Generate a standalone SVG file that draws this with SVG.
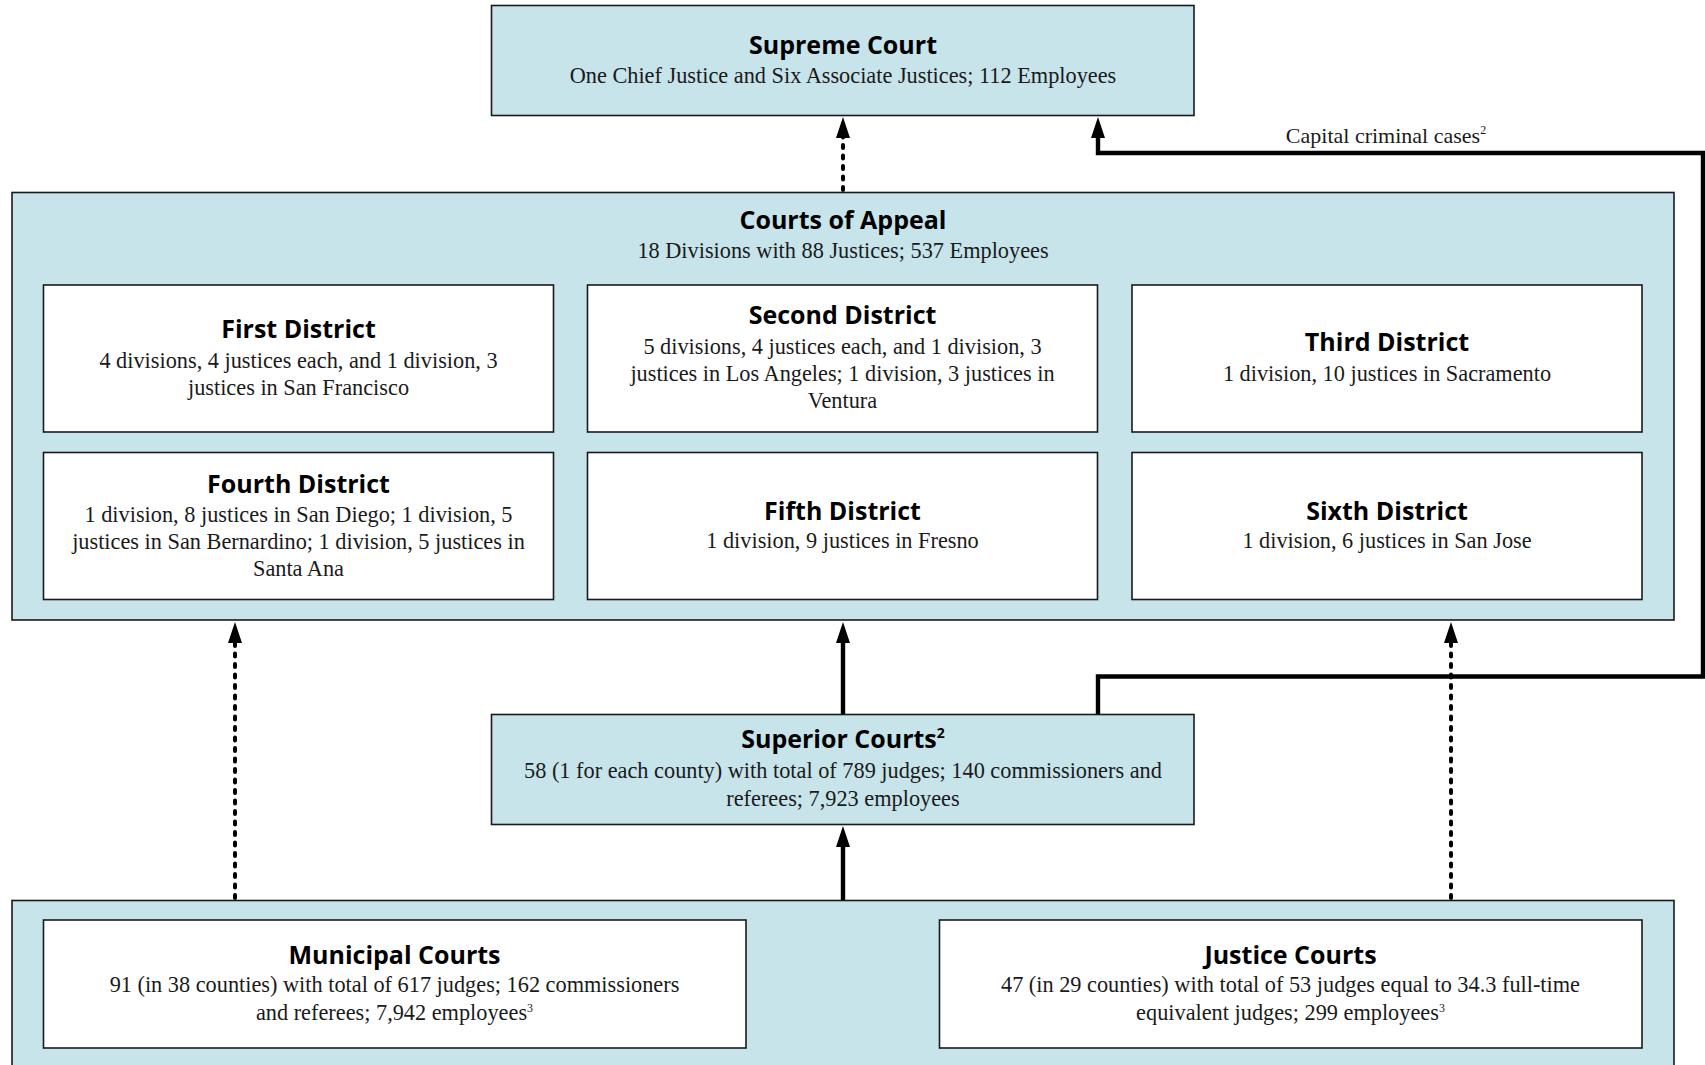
<svg xmlns="http://www.w3.org/2000/svg" width="1705" height="1065" viewBox="0 0 1705 1065">
<defs>
<style>
.blue{fill:#c6e4ea;stroke:#1a1a1a;stroke-width:1.6}
.white{fill:#ffffff;stroke:#1a1a1a;stroke-width:1.6}
.t{font-family:"Open Sans","Noto Sans",sans-serif;font-weight:bold;font-size:25px;fill:#000;text-anchor:middle}
.s{font-family:"Liberation Serif","Times New Roman",serif;font-size:22.3px;fill:#1a1a1a;text-anchor:middle}
.lab{font-family:"Liberation Serif","Times New Roman",serif;font-size:22px;fill:#1a1a1a;text-anchor:middle}
.sol{fill:none;stroke:#000;stroke-width:4.4}
.dot{fill:none;stroke:#000;stroke-width:4;stroke-dasharray:3 7.5;stroke-linecap:round}
</style>
</defs>

<g id="connectors">
<path class="dot" d="M843,190 L843,135"/>
<path d="M843,117 L836,138 L850,138 z"/>
<path class="sol" d="M1098,714 L1098,676.5 L1703,676.5 L1703,153 L1098,153 L1098,135"/>
<path d="M1098,117 L1091,138 L1105,138 z"/>
<path class="sol" d="M843,714 L843,640"/>
<path d="M843,622 L836,643 L850,643 z"/>
<path class="sol" d="M843,900 L843,843"/>
<path d="M843,826 L836,847 L850,847 z"/>
<path class="dot" d="M235,898 L235,640"/>
<path d="M235,622 L228,643 L242,643 z"/>
<path class="dot" d="M1451,898 L1451,640"/>
<path d="M1451,622 L1444,643 L1458,643 z"/>
<text class="lab" x="1386" y="143">Capital criminal cases<tspan font-size="12" dy="-9">2</tspan></text>
</g>

<g id="supreme">
<rect class="blue" x="491.5" y="5.5" width="702.5" height="110"/>
<text class="t" x="843" y="54">Supreme Court</text>
<text class="s" x="843" y="83">One Chief Justice and Six Associate Justices; 112 Employees</text>
</g>

<g id="appeal">
<rect class="blue" x="12" y="192.5" width="1662" height="427.5"/>
<text class="t" x="843" y="229">Courts of Appeal</text>
<text class="s" x="843" y="258">18 Divisions with 88 Justices; 537 Employees</text>
</g>

<g id="first">
<rect class="white" x="43.5" y="285" width="510" height="147"/>
<text class="t" x="298.5" y="338">First District</text>
<text class="s" x="298.5" y="367.5">4 divisions, 4 justices each, and 1 division, 3</text>
<text class="s" x="298.5" y="394.5">justices in San Francisco</text>
</g>

<g id="second">
<rect class="white" x="587.5" y="285" width="510" height="147"/>
<text class="t" x="842.5" y="324">Second District</text>
<text class="s" x="842.5" y="353.5">5 divisions, 4 justices each, and 1 division, 3</text>
<text class="s" x="842.5" y="380.5">justices in Los Angeles; 1 division, 3 justices in</text>
<text class="s" x="842.5" y="407.5">Ventura</text>
</g>

<g id="third">
<rect class="white" x="1132" y="285" width="510" height="147"/>
<text class="t" x="1387" y="351">Third District</text>
<text class="s" x="1387" y="380.5">1 division, 10 justices in Sacramento</text>
</g>

<g id="fourth">
<rect class="white" x="43.5" y="452.5" width="510" height="147"/>
<text class="t" x="298.5" y="492.5">Fourth District</text>
<text class="s" x="298.5" y="521.5">1 division, 8 justices in San Diego; 1 division, 5</text>
<text class="s" x="298.5" y="548.5">justices in San Bernardino; 1 division, 5 justices in</text>
<text class="s" x="298.5" y="575.5">Santa Ana</text>
</g>

<g id="fifth">
<rect class="white" x="587.5" y="452.5" width="510" height="147"/>
<text class="t" x="842.5" y="519.5">Fifth District</text>
<text class="s" x="842.5" y="548">1 division, 9 justices in Fresno</text>
</g>

<g id="sixth">
<rect class="white" x="1132" y="452.5" width="510" height="147"/>
<text class="t" x="1387" y="519.5">Sixth District</text>
<text class="s" x="1387" y="548">1 division, 6 justices in San Jose</text>
</g>

<g id="superior">
<rect class="blue" x="491.5" y="714.5" width="702.5" height="110"/>
<text class="t" x="843" y="748">Superior Courts<tspan font-size="14" dy="-10">2</tspan></text>
<text class="s" x="843" y="777.5">58 (1 for each county) with total of 789 judges; 140 commissioners and</text>
<text class="s" x="843" y="805.5">referees; 7,923 employees</text>
</g>

<g id="lower">
<rect class="blue" x="12" y="900.5" width="1662" height="175"/>
</g>

<g id="municipal">
<rect class="white" x="43.5" y="920" width="702.5" height="128"/>
<text class="t" x="394.5" y="963.5">Municipal Courts</text>
<text class="s" x="394.5" y="992">91 (in 38 counties) with total of 617 judges; 162 commissioners</text>
<text class="s" x="394.5" y="1020">and referees; 7,942 employees<tspan font-size="12" dy="-8">3</tspan></text>
</g>

<g id="justice">
<rect class="white" x="939.5" y="920" width="702.5" height="128"/>
<text class="t" x="1290.5" y="963.5">Justice Courts</text>
<text class="s" x="1290.5" y="992">47 (in 29 counties) with total of 53 judges equal to 34.3 full-time</text>
<text class="s" x="1290.5" y="1020">equivalent judges; 299 employees<tspan font-size="12" dy="-8">3</tspan></text>
</g>
</svg>
